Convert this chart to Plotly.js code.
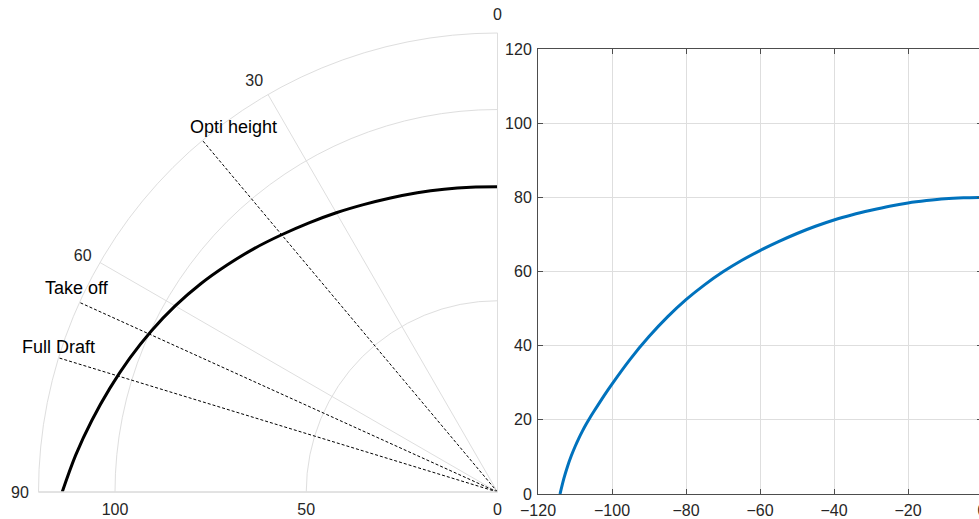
<!DOCTYPE html>
<html>
<head>
<meta charset="utf-8">
<script src="https://cdn.plot.ly/plotly-3.0.1.min.js"></script>
<style>
html, body { margin:0; padding:0; overflow:hidden; background:#fff; }
#chart { width:1000px; height:519px; }
</style>
</head>
<body>
<div id="chart"></div>
<script>
// ---- polar curve (left) ----
const polarTheta = [0, 5, 10, 15, 20, 25, 30, 35, 40, 45, 50, 55, 60, 65, 70, 75, 80, 85, 90];
const polarR     = [79.8, 80.0, 80.4, 81.0, 81.8, 82.9, 84.3, 85.9, 87.8, 90.0, 92.3, 94.8, 97.3, 99.8, 102.3, 104.9, 107.7, 110.7, 113.8];

// ---- marker lines (left) ----
const markerNames  = ["Opti height", "Take off", "Full Draft"];
const markerAngles = [40, 65.6, 73];
const markerRadius = [0, 120];

// ---- cartesian curve (right) ----
const curveX = [-114.05, -113, -112, -111, -110, -109, -108, -107, -106, -105, -102, -100, -95, -90, -85, -80, -75, -70, -65, -60, -55, -50, -45, -40, -35, -30, -25, -20, -15, -10, -5, 0];
const curveY = [0, 4.2, 7.5, 10.3, 12.75, 14.95, 16.95, 18.8, 20.5, 22.1, 26.75, 29.65, 36.45, 42.45, 47.75, 52.4, 56.4, 59.9, 62.95, 65.65, 68.05, 70.25, 72.2, 73.9, 75.3, 76.5, 77.6, 78.5, 79.15, 79.65, 79.9, 80];

// ---- ticks ----
const angularTicks = [0, 30, 60, 90];
const radialTicks  = [0, 50, 100];
const xTicks = [-120, -100, -80, -60, -40, -20, 0];
const yTicks = [0, 20, 40, 60, 80, 100, 120];

const W = 1000, H = 519;
const px = v => v / W;
const py = v => 1 - v / H;

const FONT = "Liberation Sans, Arial, sans-serif";
const GRID = "#dedede";
const TXT = "#262626";

const traces = [];
markerAngles.forEach((a, i) => {
  traces.push({
    type: "scatterpolar", mode: "lines",
    r: markerRadius, theta: [a, a],
    line: {color: "#000", width: 1, dash: "3px,2px"},
    name: markerNames[i], showlegend: false, hoverinfo: "skip", subplot: "polar"
  });
});
traces.push({
  type: "scatterpolar", mode: "lines",
  r: polarR, theta: polarTheta,
  line: {color: "#000", width: 3, shape: "spline", smoothing: 1},
  showlegend: false, subplot: "polar"
});
traces.push({
  type: "scatter", mode: "lines",
  x: curveX, y: curveY,
  line: {color: "#0072BD", width: 3, shape: "spline", smoothing: 0.8},
  showlegend: false, xaxis: "x", yaxis: "y"
});

const labelPos = [[233, 127], [77, 288], [58, 347]];
const annotations = markerNames.map((t, i) => ({
  text: t, xref: "paper", yref: "paper",
  x: px(labelPos[i][0]), y: py(labelPos[i][1]),
  xanchor: "center", yanchor: "middle", showarrow: false,
  font: {family: FONT, size: 18, color: "#000"}
}));

const layout = {
  width: W, height: H,
  margin: {l:0, r:0, t:0, b:0},
  paper_bgcolor: "#fff", plot_bgcolor: "#fff",
  font: {family: FONT, size: 16, color: TXT},
  showlegend: false,
  polar: {
    domain: {x: [px(38), px(498)], y: [py(492), py(33)]},
    sector: [90, 180],
    bgcolor: "#fff",
    angularaxis: {
      rotation: 90, direction: "counterclockwise",
      tickvals: angularTicks, ticks: "outside", ticklen: 6, tickcolor: "rgba(0,0,0,0)",
      showline: true, linecolor: GRID, linewidth: 1,
      gridcolor: GRID, gridwidth: 1,
      tickfont: {family: FONT, size: 16, color: TXT}
    },
    radialaxis: {
      range: [0, 120], tickvals: radialTicks, ticks: "",
      angle: 180, side: "counterclockwise", tickangle: 180,
      showline: true, linecolor: GRID, linewidth: 1,
      gridcolor: GRID, gridwidth: 1,
      tickfont: {family: FONT, size: 16, color: TXT}
    }
  },
  xaxis: {
    domain: [px(538), px(982)], range: [-120, 0],
    tickvals: xTicks, ticks: "inside", ticklen: 5, tickcolor: "#4d4d4d",
    showline: true, linecolor: "#4d4d4d", linewidth: 1, mirror: "ticks",
    showgrid: true, gridcolor: GRID, zeroline: false, ticklabelstandoff: 2,
    tickfont: {family: FONT, size: 16, color: TXT}
  },
  yaxis: {
    domain: [py(494), py(49)], range: [0, 120],
    tickvals: yTicks, ticks: "inside", ticklen: 5, tickcolor: "#4d4d4d",
    showline: true, linecolor: "#4d4d4d", linewidth: 1, mirror: "ticks",
    showgrid: true, gridcolor: GRID, zeroline: false, ticklabelstandoff: 2,
    tickfont: {family: FONT, size: 16, color: TXT}
  },
  annotations: annotations
};

Plotly.newPlot("chart", traces, layout, {staticPlot: true, displayModeBar: false});
</script>
</body>
</html>
